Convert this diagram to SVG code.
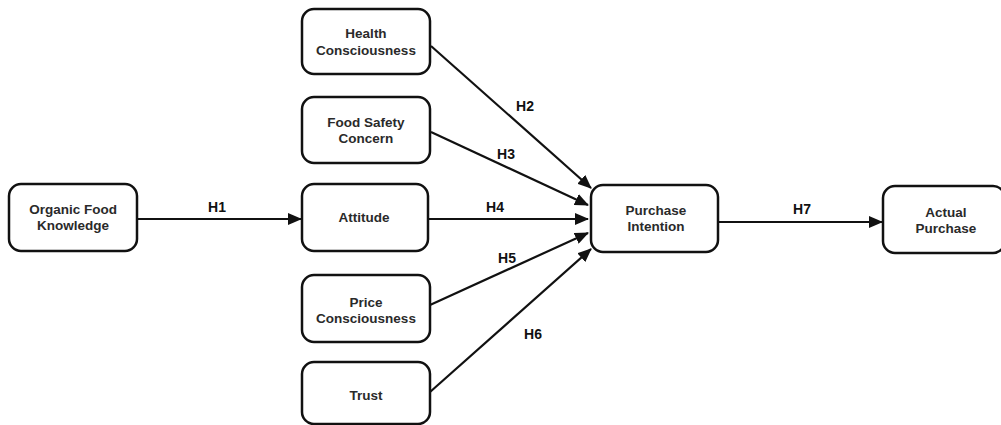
<svg xmlns="http://www.w3.org/2000/svg" width="1001" height="425" viewBox="0 0 1001 425">
<style>
.box{fill:#fff;stroke:#111;stroke-width:2.5}
.t{font-family:"Liberation Sans",Arial,sans-serif;font-weight:bold;font-size:13.5px;fill:#2a2a2a;text-anchor:middle}
.lbl{font-family:"Liberation Sans",Arial,sans-serif;font-weight:bold;font-size:14px;fill:#111;text-anchor:middle}
.edge{stroke:#111;stroke-width:2.2;fill:none;marker-end:url(#ah)}
</style>
<defs>
<marker id="ah" markerUnits="userSpaceOnUse" markerWidth="14" markerHeight="12" refX="13" refY="6" orient="auto">
<path d="M0,0 L14,6 L0,12 Z" fill="#111"/>
</marker>
</defs>
<rect width="1001" height="425" fill="#fff"/>
<g id="connectors">
<line class="edge" x1="137" y1="219" x2="301" y2="219"/>
<line class="edge" x1="431" y1="46" x2="591" y2="188"/>
<line class="edge" x1="431" y1="132" x2="588" y2="205"/>
<line class="edge" x1="428" y1="219" x2="588" y2="219"/>
<line class="edge" x1="430" y1="305" x2="588" y2="233"/>
<line class="edge" x1="430" y1="392" x2="591" y2="249"/>
<line class="edge" x1="718" y1="222" x2="882" y2="222"/>
<text class="lbl" x="217" y="212">H1</text>
<text class="lbl" x="525" y="111">H2</text>
<text class="lbl" x="506" y="159">H3</text>
<text class="lbl" x="495" y="212">H4</text>
<text class="lbl" x="507" y="263">H5</text>
<text class="lbl" x="533" y="339">H6</text>
<text class="lbl" x="802" y="214">H7</text>
</g>
<g id="organic-food-knowledge">
<rect class="box" x="9" y="184" width="128" height="67" rx="12"/>
<text class="t" x="73" y="214">Organic Food</text>
<text class="t" x="73" y="230">Knowledge</text>
</g>
<g id="health-consciousness">
<rect class="box" x="302" y="9" width="128" height="65" rx="12"/>
<text class="t" x="366" y="38">Health</text>
<text class="t" x="366" y="55">Consciousness</text>
</g>
<g id="food-safety-concern">
<rect class="box" x="302" y="97" width="128" height="66" rx="12"/>
<text class="t" x="366" y="127">Food Safety</text>
<text class="t" x="366" y="143">Concern</text>
</g>
<g id="attitude">
<rect class="box" x="302" y="184" width="126" height="67" rx="12"/>
<text class="t" x="364" y="222">Attitude</text>
</g>
<g id="price-consciousness">
<rect class="box" x="302" y="275" width="128" height="67" rx="12"/>
<text class="t" x="366" y="307">Price</text>
<text class="t" x="366" y="323">Consciousness</text>
</g>
<g id="trust">
<rect class="box" x="302" y="362" width="128" height="62" rx="12"/>
<text class="t" x="366" y="400">Trust</text>
</g>
<g id="purchase-intention">
<rect class="box" x="591" y="185" width="127" height="67" rx="12"/>
<text class="t" x="656" y="215">Purchase</text>
<text class="t" x="656" y="231">Intention</text>
</g>
<g id="actual-purchase">
<rect class="box" x="883" y="186" width="122" height="67" rx="12"/>
<text class="t" x="946" y="217">Actual</text>
<text class="t" x="946" y="233">Purchase</text>
</g>
</svg>
